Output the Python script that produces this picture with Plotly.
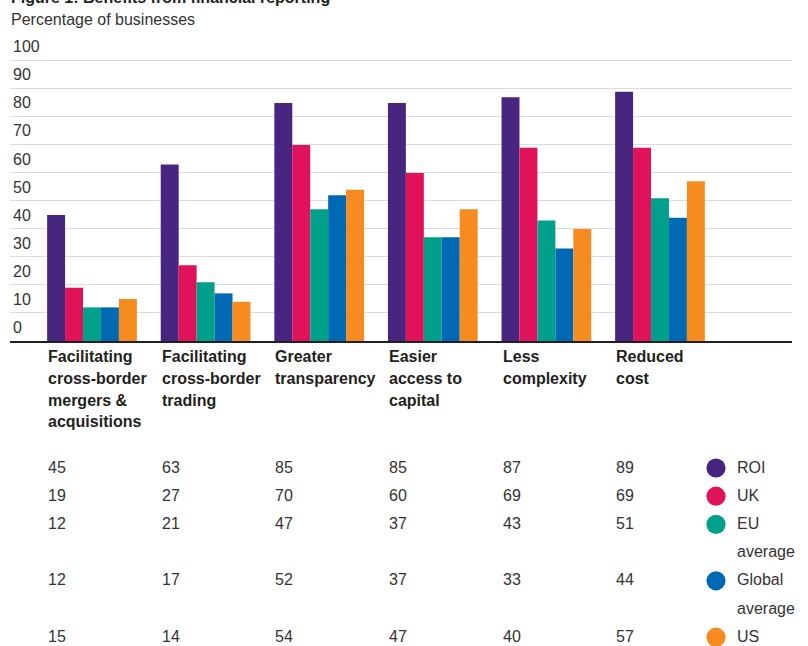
import plotly.graph_objects as go

# ---------------- data ----------------
categories = [
    "Facilitating<br>cross-border<br>mergers &amp;<br>acquisitions",
    "Facilitating<br>cross-border<br>trading",
    "Greater<br>transparency",
    "Easier<br>access to<br>capital",
    "Less<br>complexity",
    "Reduced<br>cost",
]
series_names = ["ROI", "UK", "EU average", "Global average", "US"]
legend_lines = [["ROI"], ["UK"], ["EU", "average"], ["Global", "average"], ["US"]]
roi = [45, 63, 85, 85, 87, 89]
uk = [19, 27, 70, 60, 69, 69]
eu = [12, 21, 47, 37, 43, 51]
global_avg = [12, 17, 52, 37, 33, 44]
us = [15, 14, 54, 47, 40, 57]
y_tick_labels = ["0", "10", "20", "30", "40", "50", "60", "70", "80", "90", "100"]
title_text = "Figure 1: Benefits from financial reporting"
subtitle_text = "Percentage of businesses"

# ---------------- style ----------------
colors = ["#48267f", "#e0125a", "#00a08a", "#0069b4", "#f68b1f"]
W, H = 808, 646
L, R, T, B = 10, 16, 32, 305
plot_w = W - L - R
plot_h = H - T - B
FONT = "Liberation Sans, Arial, sans-serif"
TXT = "#231f20"
Y_TOP = 110.3

def px_x(p):
    return (p - L) / plot_w

def px_y(p):
    return (H - B - p) / plot_h

series_values = [roi, uk, eu, global_avg, us]
xs = list(range(len(categories)))
band_px = 113.6
xmin = -(92 - L) / band_px
xmax = xmin + plot_w / band_px
bargap = 0.21

fig = go.Figure()
for name, vals, col in zip(series_names, series_values, colors):
    fig.add_trace(go.Bar(x=xs, y=vals, name=name, marker=dict(color=col, line=dict(width=0)),
                         showlegend=False, hoverinfo="y+name"))

fig.update_layout(
    width=W, height=H,
    margin=dict(l=L, r=R, t=T, b=B, pad=0),
    barmode="group", bargap=bargap, bargroupgap=0,
    plot_bgcolor="white", paper_bgcolor="white",
    font=dict(family=FONT, size=16, color=TXT),
    xaxis=dict(range=[xmin, xmax], showgrid=False, zeroline=False, showticklabels=False,
               showline=True, linecolor=TXT, linewidth=1.5, ticks=""),
    yaxis=dict(range=[0, Y_TOP], tickvals=[5 + 10 * i for i in range(len(y_tick_labels))],
               ticktext=y_tick_labels, ticklabelposition="inside", showgrid=False,
               zeroline=False, ticks="", tickfont=dict(size=16, color="#333333"),
               minor=dict(tickvals=[10 * (i + 1) for i in range(len(y_tick_labels))],
                          showgrid=True, gridcolor="#dcdcdc", gridwidth=1, ticks="")),
)

ann = []
ann.append(dict(text="<b>" + title_text + "</b>", xref="paper", yref="paper", x=px_x(9), y=px_y(-2),
                xanchor="left", yanchor="middle", showarrow=False, font=dict(size=16, color=TXT)))
ann.append(dict(text=subtitle_text, xref="paper", yref="paper", x=px_x(9), y=px_y(19.5),
                xanchor="left", yanchor="middle", showarrow=False, font=dict(size=16, color="#333333")))

group_left = [x - (1 - bargap) / 2 for x in xs]
# category labels, one annotation per line for the wider line spacing
for gl, cat in zip(group_left, categories):
    for li, line in enumerate(cat.split("<br>")):
        ann.append(dict(text="<b>" + line + "</b>", xref="x", yref="paper", x=gl - 0.008,
                        y=px_y(356 + 22 * li), xanchor="left", yanchor="middle", align="left",
                        showarrow=False, font=dict(size=16, color=TXT)))

# data table rows
row_top = 467
row_step = 28.2
row_index = [0, 1, 2, 4, 6]
for si, (vals, ri) in enumerate(zip(series_values, row_index)):
    yc = row_top + ri * row_step
    for gl, v in zip(group_left, vals):
        ann.append(dict(text=str(v), xref="x", yref="paper", x=gl - 0.008, y=px_y(yc),
                        xanchor="left", yanchor="middle", showarrow=False,
                        font=dict(size=16, color="#333333")))
    # legend marker
    r = 9.6
    cx = 716
    fig.add_shape(type="circle", xref="paper", yref="paper",
                  x0=px_x(cx - r), x1=px_x(cx + r), y0=px_y(yc + 1 + r), y1=px_y(yc + 1 - r),
                  fillcolor=colors[si], line=dict(width=0))
    for li, line in enumerate(legend_lines[si]):
        ann.append(dict(text=line, xref="paper", yref="paper", x=px_x(735), y=px_y(yc + li * row_step),
                        xanchor="left", yanchor="middle", showarrow=False,
                        font=dict(size=16, color="#333333")))

fig.update_layout(annotations=ann)
fig.write_html("out.html")
